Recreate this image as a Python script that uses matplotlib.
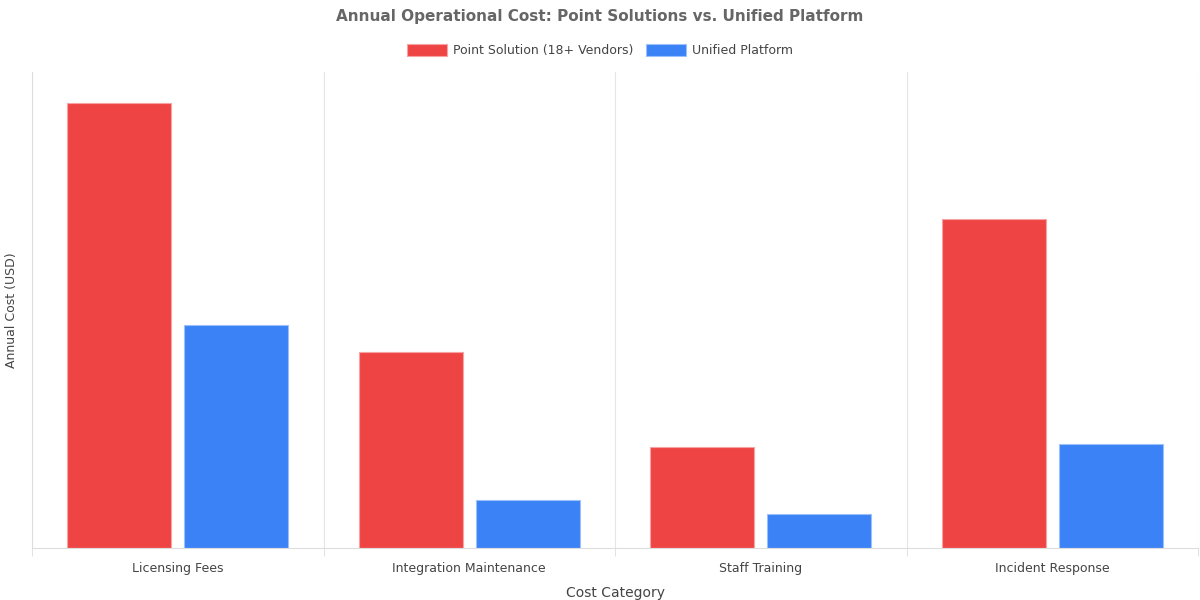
import matplotlib
matplotlib.use("Agg")
import matplotlib.pyplot as plt
import numpy as np

categories = ["Licensing Fees", "Integration Maintenance", "Staff Training", "Incident Response"]
point_solution = [450000, 198000, 102000, 332000]
unified_platform = [225000, 48000, 34000, 105000]

fig = plt.figure(figsize=(12, 6), dpi=100)
ax = fig.add_axes([32/1200, 52/600, 1166/1200, 476/600])
x = np.arange(len(categories))
w = 0.357
ax.bar(x - 0.2, point_solution, w, color="#ef4444", edgecolor="#f5a3a3", linewidth=0.8, label="Point Solution (18+ Vendors)")
ax.bar(x + 0.2, unified_platform, w, color="#3b82f6", edgecolor="#9cc0fa", linewidth=0.8, label="Unified Platform")
ax.set_xlim(-0.5, len(categories) - 0.5)
ax.set_ylim(0, 481000)
ax.set_xticks(x)
ax.set_xticklabels(categories, fontsize=9, color="#444444")
ax.tick_params(axis="x", length=0, pad=10)
ax.set_xticks(np.arange(len(categories) + 1) - 0.5, minor=True)
ax.tick_params(axis="x", which="minor", length=6, color="#dddddd")
ax.grid(axis="x", which="minor", color="#e5e5e5", linewidth=0.8)
ax.set_yticks([])
for s in ["top", "right"]:
    ax.spines[s].set_visible(False)
ax.spines["left"].set_color("#dddddd")
ax.spines["bottom"].set_color("#dddddd")
ax.set_xlabel("Cost Category", fontsize=10, color="#444444", labelpad=8)
ax.set_ylabel("Annual Cost (USD)", fontsize=9, color="#444444", labelpad=10)
fig.suptitle("Annual Operational Cost: Point Solutions vs. Unified Platform", y=0.985, fontsize=11, fontweight="bold", color="#666666")
fig.legend(loc="upper center", bbox_to_anchor=(0.5, 0.945), ncol=2, frameon=False, fontsize=9,
           handlelength=3.2, handleheight=1.0, columnspacing=1.0, handletextpad=0.5, labelcolor="#444444")
fig.savefig("out.png", dpi=100)
